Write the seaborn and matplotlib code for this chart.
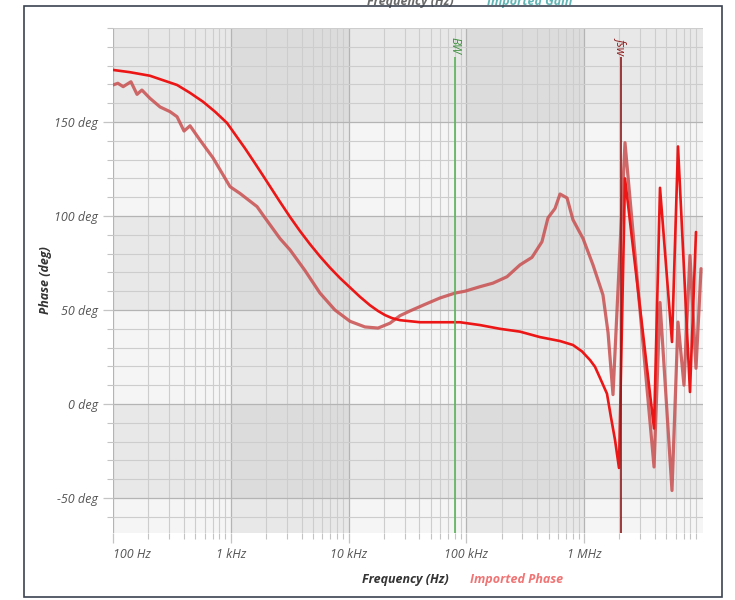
import numpy as np
import pandas as pd
import matplotlib
matplotlib.use("Agg")
import matplotlib.pyplot as plt
import seaborn as sns
from matplotlib.ticker import FixedLocator, LogLocator, MultipleLocator, NullFormatter
from matplotlib.patches import Rectangle

# ---------------- data ----------------
model_freq_hz = [100, 139, 206, 350, 451, 581, 735, 929, 1321, 1607, 1879, 2620, 3186,
                 3873, 4711, 5726, 6966, 8466, 10710, 12530, 15240, 17810, 20420, 23400,
                 27370, 40460, 59820, 88440, 130800, 193600, 286000, 422800, 625600,
                 806000, 961000, 1125000, 1240000, 1365000, 1567000, 1694000, 1833000,
                 1982000, 2229000, 3934000, 4420000, 5588000, 6284000, 7943000, 8935000]
model_phase_deg = [177.7, 176.5, 174.6, 169.7, 165.5, 160.8, 155.5, 149.5, 136.0, 128.0,
                   121.5, 107.5, 99.5, 92.0, 85.0, 78.5, 72.5, 67.0, 61.0, 57.0, 52.5,
                   49.5, 47.3, 45.7, 44.6, 43.5, 43.5, 43.5, 42.0, 40.0, 38.5, 35.6, 33.5,
                   31.4, 28.0, 23.4, 19.8, 14.0, 5.5, -7.0, -19.0, -34.0,
                   120.0, -13.0, 115.0, 33.0, 137.0, 6.4, 91.5]

imported_freq_hz = [100, 110, 122, 142, 160, 176, 206, 251, 305, 350, 401, 451, 548, 707,
                    986, 1199, 1672, 1879, 2620, 3186, 4272, 5726, 7674, 10300, 13800,
                    17810, 22500, 27370, 33270, 44630, 59820, 80160, 97450, 130800,
                    168600, 221800, 286000, 361600, 439400, 494300, 567200, 625600,
                    717800, 806000, 981500, 1192000, 1449000, 1600000, 1763000,
                    2229000, 3934000, 4420000, 5588000, 6284000, 7063000, 7943000,
                    8935000, 9862000]
imported_phase_deg = [169.7, 170.6, 168.8, 171.4, 164.7, 167.0, 162.6, 158.0, 155.5,
                      152.8, 145.2, 148.0, 140.4, 130.9, 115.6, 112.0, 105.0, 100.5,
                      88.0, 82.0, 71.0, 59.0, 50.0, 44.0, 41.0, 40.4, 43.0, 47.0, 49.5,
                      53.0, 56.4, 59.0, 60.0, 62.4, 64.3, 67.7, 74.0, 78.0, 86.3, 99.0,
                      104.0, 111.7, 109.6, 98.0, 88.0, 74.0, 58.0, 38.0, 5.0,
                      139.0, -33.5, 54.0, -46.0, 43.6, 10.0, 79.0, 19.0, 72.0]

marker_names = ["BW", "fsw"]
marker_freq_hz = [80000, 2050000]

x_tick_values = [1e2, 1e3, 1e4, 1e5, 1e6]
x_tick_labels = ["100 Hz", "1 kHz", "10 kHz", "100 kHz", "1 MHz"]
y_tick_values = [-50, 0, 50, 100, 150]
y_tick_labels = ["-50 deg", "0 deg", "50 deg", "100 deg", "150 deg"]

# ---------------- style ----------------
sns.set_theme(style="white")
plt.rcParams["font.family"] = ["Open Sans", "DejaVu Sans"]

W, H = 735, 600
fig = plt.figure(figsize=(W / 100, H / 100), dpi=100)
fig.patch.set_facecolor("white")

left_px, right_px, top_px, bot_px = 113, 703, 28, 533
ax = fig.add_axes([left_px / W, 1 - bot_px / H, (right_px - left_px) / W, (bot_px - top_px) / H])

x_min, x_max = 100, 10 ** 7.0106
y_min, y_max = -68.6, 200
ax.set_xscale("log")
ax.set_xlim(x_min, x_max)
ax.set_ylim(y_min, y_max)
ax.set_facecolor("#f5f5f5")

# alternating bands (checkerboard effect)
for a, b in [(1e3, 1e4), (1e5, 1e6)]:
    ax.axvspan(a, b, color="black", alpha=0.05, lw=0, zorder=0)
for a, b in [(150, 200), (50, 100), (-50, 0)]:
    ax.axhspan(a, b, color="black", alpha=0.05, lw=0, zorder=0)

# grid
ax.xaxis.set_major_locator(FixedLocator(x_tick_values))
ax.xaxis.set_minor_locator(LogLocator(base=10, subs=np.arange(2, 10)))
ax.xaxis.set_minor_formatter(NullFormatter())
ax.yaxis.set_major_locator(FixedLocator(y_tick_values))
ax.yaxis.set_minor_locator(MultipleLocator(10))
ax.grid(which="major", color="#b4b4b4", lw=0.9, zorder=1)
ax.grid(which="minor", color="#cdcdcd", lw=0.8, zorder=1)
ax.set_axisbelow(True)

ax.set_xticklabels(x_tick_labels)
ax.set_yticklabels(y_tick_labels)
ax.tick_params(axis="both", which="major", length=7, width=0.9, color="#c4c4c4",
               direction="out", labelsize=9, labelcolor="#555555", pad=4,
               bottom=True, left=True)
ax.tick_params(axis="both", which="minor", length=4, width=0.8, color="#c4c4c4",
               direction="out", bottom=True, left=True)
for lab in ax.get_xticklabels() + ax.get_yticklabels():
    lab.set_fontstyle("italic")
ax.get_xticklabels()[0].set_horizontalalignment("left")
for s in ax.spines.values():
    s.set_visible(False)

# ---------------- curves ----------------
df_imp = pd.DataFrame({"freq": imported_freq_hz, "phase": imported_phase_deg})
df_mod = pd.DataFrame({"freq": model_freq_hz, "phase": model_phase_deg})
sns.lineplot(data=df_imp, x="freq", y="phase", ax=ax, color="#c94f4f", alpha=0.85,
             lw=2.3, sort=False, estimator=None, zorder=3)
sns.lineplot(data=df_mod, x="freq", y="phase", ax=ax, color="#ec1616",
             lw=1.9, sort=False, estimator=None, zorder=4)
ax.set_xlabel("")
ax.set_ylabel("")

# ---------------- markers ----------------
marker_colors = ["#5cb35c", "#8e1b1b"]
marker_text_colors = ["#3f8f3f", "#8e1b1b"]
for name, f, c, tc in zip(marker_names, marker_freq_hz, marker_colors, marker_text_colors):
    ax.vlines(f, y_min, 184.6, color=c, lw=1.2, zorder=5)
    ax.text(f, 186, name, rotation=270, ha="center", va="bottom", color=tc,
            fontsize=8.5, fontstyle="italic", zorder=6)

# ---------------- texts ----------------
fig.text(45 / W, 1 - 280 / H, "Phase (deg)", rotation=90, ha="center", va="center",
         fontsize=9, fontweight="bold", fontstyle="italic", color="#333333")
fig.text(362 / W, 1 - 580 / H, "Frequency (Hz)", ha="left", va="center",
         fontsize=9, fontweight="bold", fontstyle="italic", color="#333333")
fig.text(470 / W, 1 - 580 / H, "Imported Phase", ha="left", va="center",
         fontsize=9, fontweight="bold", fontstyle="italic", color="#f07474")

# cut-off legend of the chart above (partly outside the crop, as in the reference)
fig.text(367 / W, 1 - 5 / H, "Frequency (Hz)", ha="left", va="baseline",
         fontsize=9, fontweight="bold", fontstyle="italic", color="#444444", alpha=0.8)
fig.text(487 / W, 1 - 5 / H, "Imported Gain", ha="left", va="baseline",
         fontsize=9, fontweight="bold", fontstyle="italic", color="#3aa3a3", alpha=0.8)

# outer frame
fig.add_artist(Rectangle((24 / W, 1 - 597 / H), (722 - 24) / W, (597 - 6) / H,
                         transform=fig.transFigure, fill=False, edgecolor="#3c4252",
                         lw=1.2, zorder=10))

fig.savefig("out.png", dpi=100, facecolor="white")
